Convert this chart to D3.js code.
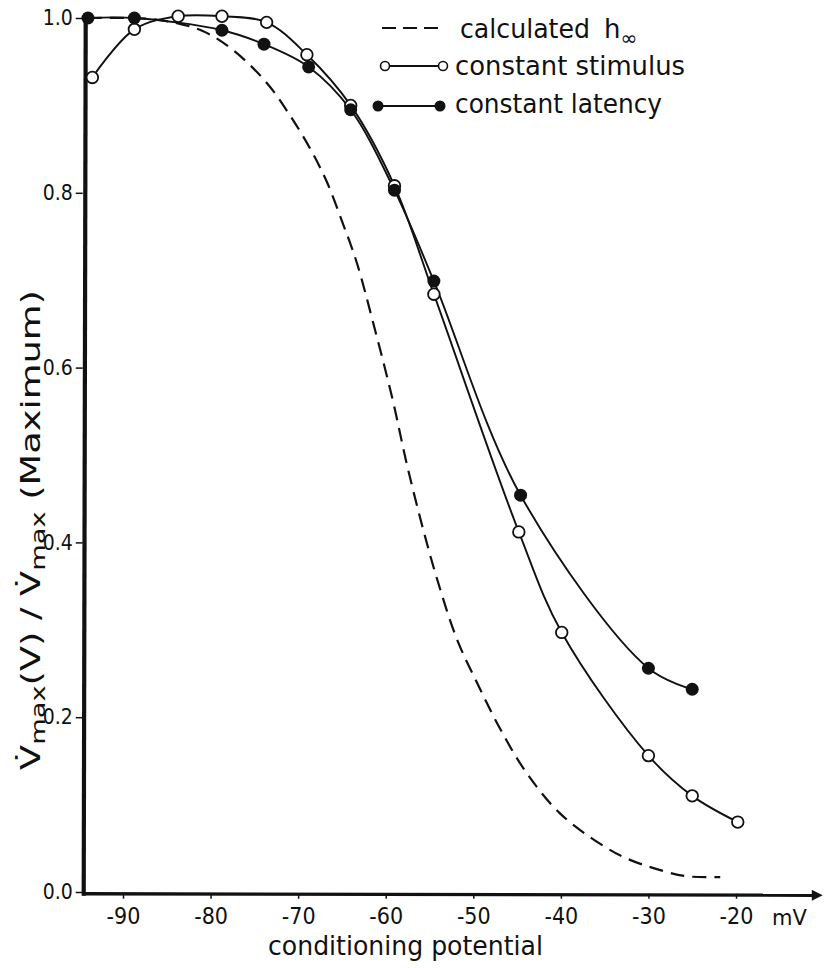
<!DOCTYPE html>
<html>
<head>
<meta charset="utf-8">
<script src="https://cdn.jsdelivr.net/npm/d3@7"></script>
<style>
  body { margin: 0; background: #fff; }
  svg { display: block; }
  text { font-family: "DejaVu Sans", sans-serif; fill: #111; }
  .tick text { font-family: "DejaVu Sans Condensed", "DejaVu Sans", sans-serif; font-stretch: condensed; }
</style>
</head>
<body>
<div id="chart"></div>
<script>
// values (mV, relative Vmax)
const xTicks = [-90, -80, -70, -60, -50, -40, -30, -20]
const yTicks = [0, 0.2, 0.4, 0.6, 0.8, 1.0]

const stimV = [-93.5, -88.7, -83.7, -78.7, -73.6, -69.0, -64.0, -59.0, -54.5, -44.8, -39.9, -30.0, -25.0, -19.8]
const stimY = [0.932, 0.987, 1.002, 1.002, 0.995, 0.958, 0.900, 0.808, 0.684, 0.412, 0.297, 0.156, 0.110, 0.080]

const latV = [-94.0, -88.7, -78.7, -73.9, -68.8, -64.0, -59.0, -54.5, -44.6, -30.0, -25.0]
const latY = [1.000, 1.000, 0.986, 0.970, 0.944, 0.895, 0.803, 0.699, 0.454, 0.256, 0.232]

// calculated h-infinity, read at points along the dashed curve
const hV = [-94.0, -86.0, -80.9, -77.4, -73.6, -70.9, -68.6, -66.7, -64.9, -63.3, -61.4, -59.2, -57.6, -55.7, -54.1, -51.9, -49.6, -47.0, -43.9, -40.1, -35.5, -32.4, -28.3, -25.6, -21.8]
const hY = [1.000, 0.998, 0.985, 0.963, 0.926, 0.888, 0.850, 0.812, 0.765, 0.720, 0.650, 0.563, 0.490, 0.414, 0.357, 0.290, 0.240, 0.188, 0.136, 0.090, 0.055, 0.038, 0.024, 0.018, 0.017]

const width = 831,
      height = 968

const x = d3.scaleLinear().domain([-90, -20]).range([123, 736])
const y = d3.scaleLinear().domain([0, 1]).range([892, 18])

const svg = d3.select("#chart").append("svg")
    .attr("width", width)
    .attr("height", height)

svg.append("defs").append("marker")
    .attr("id", "arrow")
    .attr("viewBox", "0 0 10 10")
    .attr("refX", 2).attr("refY", 5)
    .attr("markerWidth", 5).attr("markerHeight", 3.2)
    .attr("markerUnits", "strokeWidth")
    .attr("orient", "auto")
  .append("path")
    .attr("d", "M0,0 L10,5 L0,10 Z")
    .attr("fill", "#111")

const axisY0 = y(-0.002)
const axisX0 = x(-94.6)

// x axis
const gx = svg.append("g")
    .attr("transform", "translate(0," + axisY0 + ")")
    .call(d3.axisBottom(x).tickValues(xTicks).tickSize(5).tickPadding(9)
        .tickFormat(d => "-" + Math.abs(d)))
gx.select(".domain").remove()
gx.selectAll(".tick line").attr("stroke", "#111").attr("stroke-width", 1.5)
gx.selectAll(".tick text").attr("font-size", 23).attr("fill", "#111")

svg.append("line")
    .attr("x1", axisX0).attr("x2", 814)
    .attr("y1", axisY0).attr("y2", axisY0 + 1.5)
    .attr("stroke", "#111").attr("stroke-width", 3.4)
    .attr("marker-end", "url(#arrow)")

// y axis
const gy = svg.append("g")
    .attr("transform", "translate(" + axisX0 + ",0)")
    .call(d3.axisLeft(y).tickValues(yTicks).tickSize(7).tickPadding(3)
        .tickFormat(d3.format(".1f")))
gy.select(".domain").remove()
gy.selectAll(".tick line").attr("stroke", "#111").attr("stroke-width", 1.5)
gy.selectAll(".tick text").attr("font-size", 21).attr("fill", "#111")

svg.append("line")
    .attr("x1", axisX0 + 1).attr("x2", axisX0 + 3)
    .attr("y1", axisY0 + 2).attr("y2", 13)
    .attr("stroke", "#111").attr("stroke-width", 4.2)

// curves
const line = d3.line().x(d => x(d[0])).y(d => y(d[1])).curve(d3.curveCatmullRom.alpha(0.5))

const hData = hV.map((v, i) => [v, hY[i]])
const stimData = stimV.map((v, i) => [v, stimY[i]])
const latData = latV.map((v, i) => [v, latY[i]])

svg.append("path")
    .attr("d", line(hData))
    .attr("fill", "none").attr("stroke", "#111")
    .attr("stroke-width", 2.2).attr("stroke-dasharray", "14,8")

svg.append("path")
    .attr("d", line(stimData))
    .attr("fill", "none").attr("stroke", "#111").attr("stroke-width", 1.9)

svg.append("path")
    .attr("d", line(latData))
    .attr("fill", "none").attr("stroke", "#111").attr("stroke-width", 1.9)

svg.selectAll("circle.stim")
    .data(stimData)
    .enter()
    .append("circle")
    .attr("class", "stim")
    .attr("cx", d => x(d[0])).attr("cy", d => y(d[1]))
    .attr("r", 5.8)
    .attr("fill", "#fff").attr("stroke", "#111").attr("stroke-width", 1.8)

svg.selectAll("circle.lat")
    .data(latData)
    .enter()
    .append("circle")
    .attr("class", "lat")
    .attr("cx", d => x(d[0])).attr("cy", d => y(d[1]))
    .attr("r", 6.5)
    .attr("fill", "#111")

// legend
const leg = svg.append("g")
leg.append("line")
    .attr("x1", 382).attr("x2", 438).attr("y1", 28).attr("y2", 28)
    .attr("stroke", "#111").attr("stroke-width", 2).attr("stroke-dasharray", "14,7")
const t1 = leg.append("text").attr("x", 460).attr("y", 38).attr("font-size", 26)
t1.append("tspan").text("calculated").attr("textLength", 130).attr("lengthAdjust", "spacingAndGlyphs")
t1.append("tspan").attr("x", 604).text("h")
t1.append("tspan").attr("dy", 7).attr("font-size", 20).text("\u221e")

leg.append("line")
    .attr("x1", 385).attr("x2", 443).attr("y1", 66).attr("y2", 66)
    .attr("stroke", "#111").attr("stroke-width", 1.8)
leg.selectAll("circle.lo")
    .data([385, 443])
    .enter().append("circle")
    .attr("cx", d => d).attr("cy", 66).attr("r", 4.5)
    .attr("fill", "#fff").attr("stroke", "#111").attr("stroke-width", 1.6)
leg.append("text").attr("x", 455).attr("y", 75).attr("font-size", 26)
    .attr("textLength", 230).attr("lengthAdjust", "spacingAndGlyphs")
    .text("constant stimulus")

leg.append("line")
    .attr("x1", 378).attr("x2", 440).attr("y1", 106).attr("y2", 106)
    .attr("stroke", "#111").attr("stroke-width", 1.8)
leg.selectAll("circle.lf")
    .data([378, 440])
    .enter().append("circle")
    .attr("cx", d => d).attr("cy", 106).attr("r", 5.5)
    .attr("fill", "#111")
leg.append("text").attr("x", 455).attr("y", 113).attr("font-size", 26)
    .attr("textLength", 207).attr("lengthAdjust", "spacingAndGlyphs")
    .text("constant latency")

// axis titles
svg.append("text")
    .attr("x", 268).attr("y", 955).attr("font-size", 26)
    .attr("textLength", 275).attr("lengthAdjust", "spacingAndGlyphs")
    .text("conditioning potential")

svg.append("text")
    .attr("x", 772).attr("y", 925).attr("font-size", 21)
    .text("mV")

const yl = svg.append("text")
    .attr("text-anchor", "middle")
    .attr("font-size", 27)
yl.append("tspan").text("V\u0307")
yl.append("tspan").attr("font-size", 20).attr("dy", 5).text("max")
yl.append("tspan").attr("dy", -5).text("(V) / V\u0307")
yl.append("tspan").attr("font-size", 20).attr("dy", 5).text("max")
yl.append("tspan").attr("dy", -5).text(" (Maximum)")
// stretch along the reading direction to the length it has in the figure
const ylw = yl.node().getBBox().width
yl.attr("transform", "translate(40,530) rotate(-90) scale(" + (480 / ylw) + ",1)")
</script>
</body>
</html>
